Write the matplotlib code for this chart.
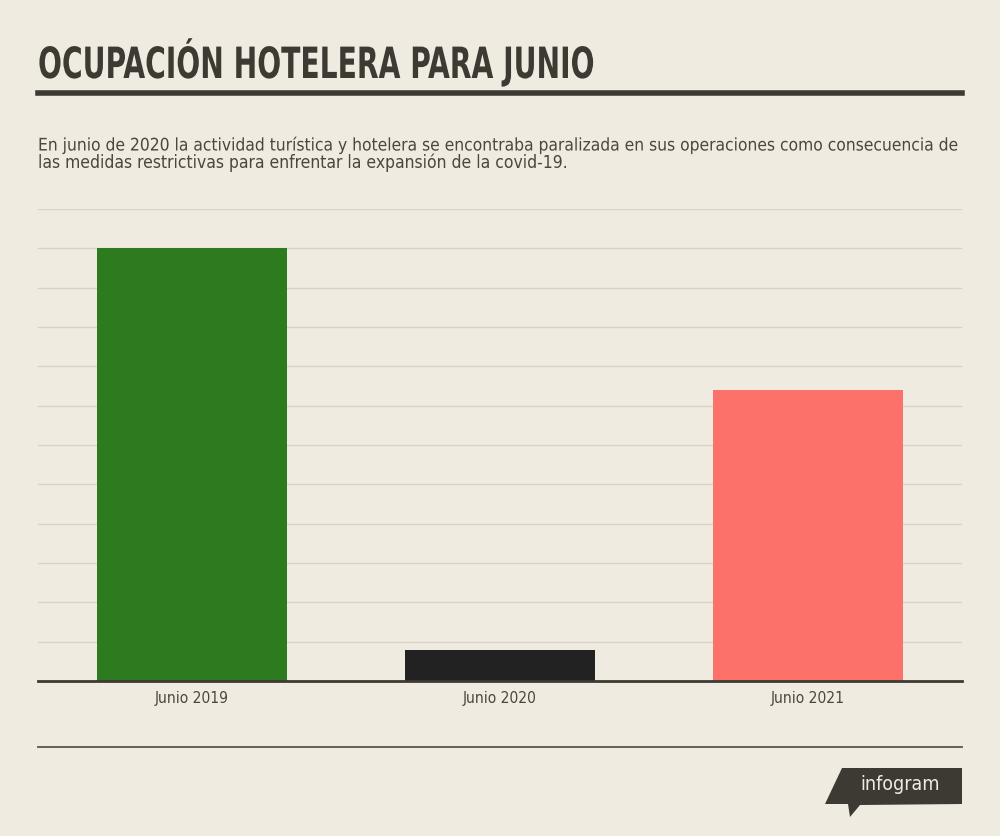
import matplotlib
matplotlib.use("Agg")
import matplotlib.pyplot as plt
from matplotlib.patches import Polygon
from matplotlib.lines import Line2D
from matplotlib.patheffects import AbstractPathEffect
from matplotlib.transforms import Affine2D

categories = ["Junio 2019", "Junio 2020", "Junio 2021"]
values = [55, 4, 37]
colors = ["#2e7a1f", "#222222", "#fc726a"]
grid_step = 5
y_max = 60

title = "OCUPACIÓN HOTELERA PARA JUNIO"
subtitle_lines = [
    "En junio de 2020 la actividad turística y hotelera se encontraba paralizada en sus operaciones como consecuencia de",
    "las medidas restrictivas para enfrentar la expansión de la covid-19.",
]

FAM = "DejaVu Sans"
BG = "#f0ebe0"
DARK = "#3d3a33"
TXT = "#4a4640"
W, H = 1000, 836
fig = plt.figure(figsize=(W/100, H/100), dpi=100, facecolor=BG)
renderer = fig.canvas.get_renderer()

def fx(x): return x / W
def fy(y): return 1 - y / H


class HStretch(AbstractPathEffect):
    """Scale text glyphs horizontally about a fixed x position (display px)."""
    def __init__(self, x0, sx):
        super().__init__()
        self.x0, self.sx = x0, sx

    def draw_path(self, renderer, gc, tpath, affine, rgbFace=None):
        st = Affine2D().translate(-self.x0, 0).scale(self.sx, 1).translate(self.x0, 0)
        renderer.draw_path(gc, tpath, affine + st, rgbFace)


def fit_width(t, x0_px, target_px):
    w = t.get_window_extent(renderer).width
    t.set_path_effects([HStretch(x0_px, target_px / w)])


ax = fig.add_axes([fx(38), fy(681), fx(962) - fx(38), fy(209) - fy(681)])
ax.set_facecolor(BG)
x = list(range(len(categories)))
ax.bar(x, values, width=0.617, color=colors, zorder=3)
ax.set_xlim(-0.5, len(categories) - 0.5)
ax.set_ylim(0, y_max)
ax.set_yticks(range(0, y_max + 1, grid_step))
ax.yaxis.grid(True, color="#d8d3c8", linewidth=1.0, zorder=0)
ax.tick_params(axis="y", length=0, labelleft=False)
ax.set_xticks(x)
ax.set_xticklabels(categories, fontsize=11.2, color=TXT, family=FAM, fontstretch="condensed")
ax.tick_params(axis="x", length=0, pad=7)
for s in ["top", "right", "left"]:
    ax.spines[s].set_visible(False)
ax.spines["bottom"].set_color(DARK)
ax.spines["bottom"].set_linewidth(2)
ax.spines["bottom"].set_zorder(4)

t_title = fig.text(fx(38), fy(78), title, fontsize=31, fontweight="bold", color=DARK,
                   family=FAM, fontstretch="condensed", va="baseline", ha="left")
fit_width(t_title, 38, 555)
fig.add_artist(Line2D([fx(38), fx(962)], [fy(93), fy(93)], color=DARK, linewidth=4))

t1 = fig.text(fx(38), fy(150.5), subtitle_lines[0], fontsize=12.5, color=TXT, family=FAM,
              fontstretch="condensed", va="baseline", ha="left")
fit_width(t1, 38, 924)
fig.text(fx(38), fy(168), subtitle_lines[1], fontsize=12.5, color=TXT, family=FAM,
         fontstretch="condensed", va="baseline", ha="left")

fig.add_artist(Line2D([fx(38), fx(962)], [fy(747), fy(747)], color="#5a554b", linewidth=1.3))

logo = [(842, 768), (962, 768), (962, 804), (860, 805), (850, 817), (848, 804), (825, 804)]
fig.add_artist(Polygon([(fx(a), fy(b)) for a, b in logo], closed=True,
                       transform=fig.transFigure, facecolor=DARK, edgecolor="none"))
fig.text(fx(900), fy(785), "infogram", fontsize=14, color="#f0ebe0", family=FAM,
         fontstretch="condensed", ha="center", va="center")

fig.savefig("out.png", dpi=100, facecolor=BG)
